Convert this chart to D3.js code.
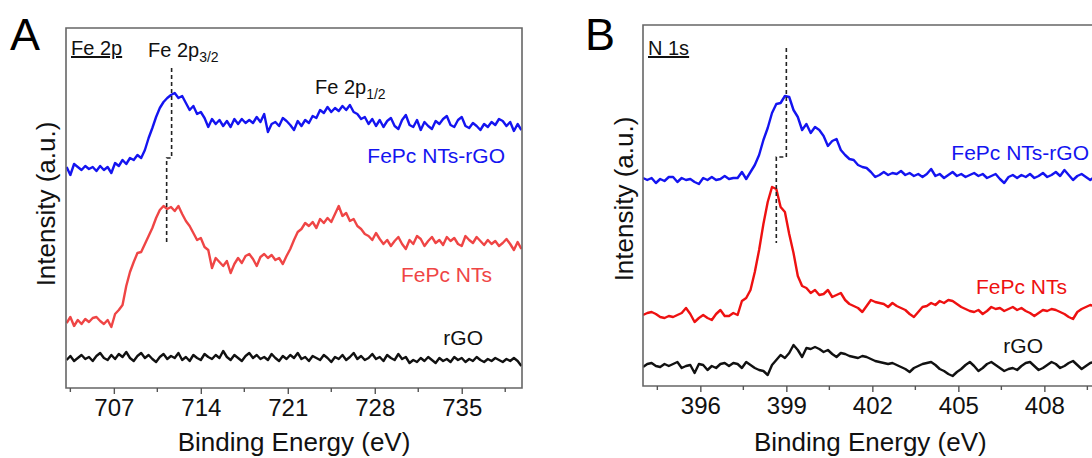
<!DOCTYPE html>
<html><head><meta charset="utf-8">
<script src="https://cdn.jsdelivr.net/npm/d3@7"></script>
<style>
body{margin:0;background:#fff}
text{font-family:Arial,'Liberation Sans',sans-serif}
</style>
</head><body>
<svg id="c" width="1092" height="458"></svg>
<script>
// ---------- Panel A: Fe 2p ----------
const feStart = 703.2, feStep = 0.3;
const feBlue = [221,213,224,221,218,222,219,221,217,222,
218,221,215,225,222,228,224,230,228,233,
230,238,250,260,271,280,286,290,293,295,
290,292,285,278,282,274,276,270,261,269,
264,268,262,267,261,269,264,269,265,268,
265,271,266,274,256,264,266,262,270,267,
263,258,267,262,268,265,272,270,278,275,
281,276,280,277,282,278,283,276,274,269,
271,264,269,262,268,261,267,270,262,259,
268,273,263,261,268,258,266,262,259,267,
264,269,272,263,261,268,271,262,260,265,
262,258,264,261,266,263,269,267,262,266,
257,264,258];
const feRed = [65,71,62,68,64,69,66,70,71,67,
64,68,61,74,78,83,102,116,126,135,
136,144,152,160,170,178,182,179,181,177,
182,174,167,162,155,148,150,141,138,120,
130,126,122,127,115,124,130,125,132,134,
129,122,131,134,130,133,128,130,124,132,
139,148,156,159,165,162,166,160,169,165,
170,166,174,182,172,175,167,169,162,159,
154,152,148,155,149,144,148,142,147,151,
144,139,148,144,152,149,142,147,151,145,
148,143,151,147,150,144,142,152,148,145,
151,147,143,148,144,147,142,145,149,144,
138,146,139];
const feBlack = [28,32,27,30,33,29,31,27,32,35,
30,28,33,29,34,31,36,30,27,32,
35,30,33,29,26,31,34,29,32,30,
35,28,31,27,33,30,28,34,31,29,
33,30,37,31,28,33,30,27,32,35,
30,33,29,31,28,34,30,27,32,29,
33,30,35,29,31,27,32,30,28,33,
30,26,31,29,33,28,31,35,29,32,
28,30,34,29,31,27,33,30,28,34,
29,31,25,28,26,30,27,31,28,25,
30,27,29,26,31,28,30,26,29,27,
31,28,26,29,27,30,28,26,29,27,
30,27,22];
const feTicks = [707,714,721,728,735];
const feMinor = [703.5,710.5,717.5,724.5,731.5,738.5];
const feMarkerE = [711.65, 711.25];     // dashed guide: upper, lower energy
const feMarkerI = [320, 230, 143];      // dashed guide: top, step, bottom intensity

// ---------- Panel B: N 1s ----------
const nStart = 394, nStep = 0.15;
const nBlue = [208,206,208,203,207,205,209,209,204,208,
206,207,204,202,208,206,209,206,207,210,
207,208,208,214,207,214,221,231,246,258,
273,282,283,290,289,276,269,256,262,253,
259,256,250,240,245,247,236,231,227,226,
221,219,218,214,209,211,214,211,213,212,
215,211,213,210,212,209,212,217,210,212,
208,211,214,210,212,209,211,213,210,212,
208,210,212,207,203,209,211,208,211,209,
212,208,210,213,209,211,214,210,216,211,
206,210,212,209,206,209];
const nRed = [71,73,74,72,69,68,70,69,71,73,
78,72,64,68,71,68,66,72,76,70,
70,73,71,85,88,96,114,136,162,184,
199,197,179,174,152,133,110,100,98,93,
96,91,92,96,89,91,93,86,82,80,
78,74,80,86,84,83,82,79,83,80,
78,76,72,69,74,79,80,83,81,85,
83,86,85,82,79,77,75,74,76,72,
75,79,77,78,75,77,79,76,78,75,
73,70,73,76,75,77,76,74,72,69,
67,74,77,79,81,80];
const nBlack = [19,22,23,20,19,22,20,22,24,18,
20,21,13,22,21,16,20,18,22,23,
20,23,22,18,24,21,18,16,15,11,
21,26,31,28,33,41,36,29,38,37,
39,37,34,36,32,29,33,32,30,29,
28,30,29,27,25,24,23,22,23,21,
19,17,14,18,20,22,23,24,21,17,
15,12,10,14,17,21,24,20,15,18,
22,24,21,18,15,17,18,16,20,23,
24,20,16,18,21,24,22,18,20,23,
25,21,17,20,23,24];
const nTicks = [396,399,402,405,408];
const nMinor = [394.5,397.5,400.5,403.5,406.5,409.5];
const nMarkerE = [399.0, 398.65];
const nMarkerI = [338, 229, 143];

const seriesNames = ["FePc NTs-rGO", "FePc NTs", "rGO"];

const svg = d3.select("#c");
const FONT = "Arial, 'Liberation Sans', sans-serif";

function panel(o) {
  const x = d3.scaleLinear().domain(o.xDom).range([o.left, o.right]);
  const y = d3.scaleLinear().domain(o.yDom).range([o.bottom, o.top]);
  const g = svg.append("g");
  const clipId = "clip" + o.id;
  svg.append("clipPath").attr("id", clipId).append("rect")
    .attr("x", o.left).attr("y", o.top)
    .attr("width", o.right - o.left).attr("height", o.bottom - o.top);

  const line = d3.line().x(d => x(d[0])).y(d => y(d[1]));
  const series = [
    {v: o.blue, c: o.blueC},
    {v: o.red, c: o.redC},
    {v: o.black, c: "#111"}
  ];
  const lines = g.append("g").attr("clip-path", `url(#${clipId})`);
  series.forEach(s => {
    const pts = s.v.map((val, i) => [o.start + o.step * i, val]);
    lines.append("path").datum(pts).attr("d", line)
      .attr("fill", "none").attr("stroke", s.c)
      .attr("stroke-width", 2.4).attr("stroke-linejoin", "round");
  });

  // dashed guide
  const [eU, eL] = o.markE, [iT, iS, iB] = o.markI;
  g.append("path")
    .attr("d", `M${x(eU)},${y(iT)}V${y(iS)}H${x(eL)}V${y(iB)}`)
    .attr("fill", "none").attr("stroke", "#222").attr("stroke-width", 1.6)
    .attr("stroke-dasharray", "4,3");

  // frame
  const fr = g.append("g").attr("stroke", "#666").attr("stroke-width", 1.6).attr("fill", "none");
  fr.append("path").attr("d",
    o.rightBorder
      ? `M${o.left},${o.top}H${o.right}V${o.bottom}H${o.left}Z`
      : `M${o.right},${o.top}H${o.left}V${o.bottom}H${o.right}`);

  // axis
  const ax = g.append("g").attr("transform", `translate(0,${o.bottom})`)
    .call(d3.axisBottom(x).tickValues(o.ticks).tickSize(6).tickPadding(5).tickFormat(d3.format("d")));
  ax.select(".domain").remove();
  ax.selectAll(".tick line").attr("stroke", "#555").attr("stroke-width", 1.4);
  ax.selectAll(".tick text").attr("font-size", 24).attr("font-family", FONT).attr("fill", "#111")
    .attr("dy", "0.72em");
  g.append("g").attr("transform", `translate(0,${o.bottom})`)
    .selectAll("line").data(o.minor).join("line")
    .attr("x1", d => x(d)).attr("x2", d => x(d)).attr("y1", 0).attr("y2", 4)
    .attr("stroke", "#555").attr("stroke-width", 1.4);

  // axis titles
  g.append("text").attr("x", (o.left + Math.min(o.right, 1092 + (o.right - 1092))) / 2 + o.xTitleShift)
    .attr("y", 451).attr("text-anchor", "middle").attr("font-size", 26).attr("fill", "#111")
    .text("Binding Energy (eV)");
  g.append("text").attr("transform", `translate(${o.yLabX},${o.yLabY}) rotate(-90)`)
    .attr("text-anchor", "middle").attr("font-size", 26).attr("fill", "#111")
    .text("Intensity (a.u.)");

  // panel letter
  g.append("text").attr("x", o.letterX).attr("y", 50).attr("font-size", 45).attr("fill", "#000")
    .text(o.letter);

  // core level label (underlined)
  g.append("text").attr("x", o.left + 5).attr("y", 55).attr("font-size", 20)
    .attr("text-decoration", "underline").attr("fill", "#111").text(o.core);

  // series labels
  o.labels.forEach((l, k) => {
    g.append("text").attr("x", l[0]).attr("y", l[1]).attr("text-anchor", "end")
      .attr("font-size", 21).attr("fill", [o.blueC, o.redC, "#111"][k]).text(seriesNames[k]);
  });
  return {x, y, g};
}

const A = panel({
  id: "A", xDom: [703.15, 739.85], yDom: [0, 360],
  left: 66, right: 522, top: 28, bottom: 388, rightBorder: true,
  start: feStart, step: feStep, blue: feBlue, red: feRed, black: feBlack,
  blueC: "#1414f0", redC: "#ef4545",
  ticks: feTicks, minor: feMinor, markE: feMarkerE, markI: feMarkerI,
  xTitleShift: 0, yLabX: 55, yLabY: 204, letter: "A", letterX: 10, core: "Fe 2p",
  labels: [[505, 163], [492, 282], [483, 345]]
});

const B = panel({
  id: "B", xDom: [394, 410], yDom: [0, 361],
  left: 643, right: 1101.7, top: 25, bottom: 386, rightBorder: false,
  start: nStart, step: nStep, blue: nBlue, red: nRed, black: nBlack,
  blueC: "#1414f0", redC: "#ee1111",
  ticks: nTicks, minor: nMinor, markE: nMarkerE, markI: nMarkerI,
  xTitleShift: -2, yLabX: 633, yLabY: 199, letter: "B", letterX: 585, core: "N 1s",
  labels: [[1089, 160], [1067, 294], [1043, 353]]
});

// peak annotations in panel A
function peakLabel(px, py, sub) {
  const t = A.g.append("text").attr("x", px).attr("y", py).attr("font-size", 20).attr("fill", "#111");
  t.append("tspan").text("Fe 2p");
  t.append("tspan").attr("font-size", 14).attr("dy", 5).text(sub);
}
peakLabel(148, 57, "3/2");
peakLabel(315, 94, "1/2");
</script>
</body></html>
